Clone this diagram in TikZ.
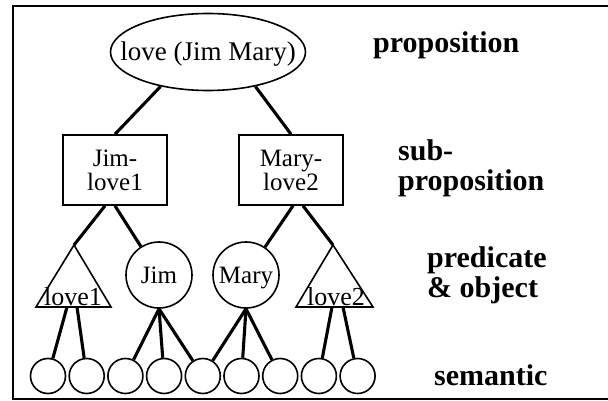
\documentclass[tikz,border=0pt]{standalone}
\usepackage{fontspec}
\setmainfont{Liberation Serif}
\usetikzlibrary{shapes.geometric}
\begin{document}
\begin{tikzpicture}[x=1pt,y=-1pt,
  conn/.style={line width=3.1pt},
  shp/.style={draw, line width=1.6pt},
  lbl/.style={font=\fontsize{30}{30}\selectfont\bfseries, anchor=base west, inner sep=0pt, align=left},
  sem/.style={shp, circle, minimum size=35pt, inner sep=0pt},
  obj/.style={shp, circle, minimum size=66pt, inner sep=0pt, font=\fontsize{25}{25}\selectfont, text height=16.5pt, text depth=0pt},
  sub/.style={shp, rectangle, minimum width=104pt, minimum height=70pt, inner sep=0pt, align=center, font=\fontsize{25}{24}\selectfont},
  tri/.style={font=\fontsize{26}{26}\selectfont, anchor=base, inner sep=0pt}
]
\useasboundingbox (0,0) rectangle (608,401);
\draw[line width=2.6pt] (13,6) rectangle (640,399);

% proposition
\node[shp, ellipse, minimum width=195pt, minimum height=77pt, inner sep=0pt] (prop) at (208,52) {};
\node[font=\fontsize{27}{27}\selectfont, anchor=base, inner sep=0pt] (proptext) at (208,61) {love (Jim Mary)};

% sub-propositions
\node[sub] (b1) at (115,170) {Jim-\\love1};
\node[sub] (b2) at (291,170) {Mary-\\love2};

% predicates and objects
\coordinate (t1a) at (74,245);
\coordinate (t1l) at (36,307);
\coordinate (t1r) at (111,307);
\draw[shp] (t1a) -- (t1l) -- (t1r) -- cycle;
\node[tri] (t1) at (73,305) {love1};
\coordinate (t1b1) at (67,307);
\coordinate (t1b2) at (77,307);

\coordinate (t2a) at (333,245);
\coordinate (t2l) at (296,307);
\coordinate (t2r) at (373,307);
\draw[shp] (t2a) -- (t2l) -- (t2r) -- cycle;
\node[tri] (t2) at (336,305) {love2};
\coordinate (t2b1) at (332,307);
\coordinate (t2b2) at (343,307);

\node[obj] (jim) at (159,275) {Jim};
\node[obj] (mary) at (246,275) {Mary};

% semantic units
\foreach \i/\x in {1/48,2/86.7,3/125.4,4/164.1,5/202.8,6/241.5,7/280.2,8/318.9,9/357.6}
  \node[sem] (c\i) at (\x,376) {};

% connectors
\draw[conn] (prop.216) -- (b1.north);
\draw[conn] (prop.324) -- (b2.north);
\draw[conn] ([xshift=-10pt]b1.south) -- (t1a);
\draw[conn] (b1.south) -- (jim);
\draw[conn] ([xshift=2pt]b2.south) -- (mary);
\draw[conn] ([xshift=12pt]b2.south) -- (t2a);
\draw[conn] (t1b1) -- (c1);
\draw[conn] (t1b2) -- (c2);
\draw[conn] (jim.south) -- (c3);
\draw[conn] (jim.south) -- (c4);
\draw[conn] (jim.south) -- (c5);
\draw[conn] (mary.south) -- (c5);
\draw[conn] (mary.south) -- (c6);
\draw[conn] (mary.south) -- (c7);
\draw[conn] (t2b1) -- (c8);
\draw[conn] (t2b2) -- (c9);

% level labels
\node[lbl] (l1) at (373,53) {proposition};
\node[lbl, anchor=west] (l2) at (398,168) {sub-\\proposition};
\node[lbl, anchor=west] (l3) at (427,275) {predicate\\\& object};
\node[lbl] (l4) at (434,385) {semantic};
\end{tikzpicture}
\end{document}
